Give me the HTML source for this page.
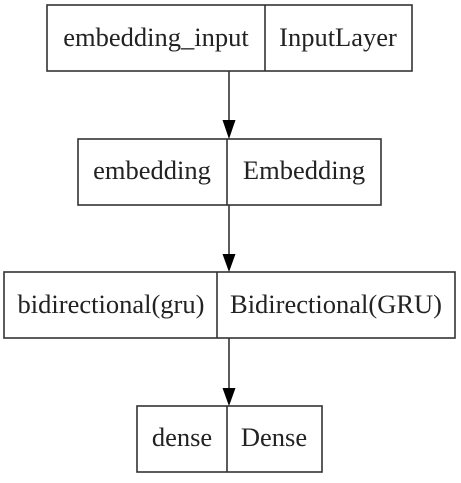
<!DOCTYPE html>
<html><head><style>html,body{margin:0;padding:0;background:#fff}text{font-family:"Liberation Serif",serif;font-size:26.5px;fill:#222}</style></head>
<body>
<svg width="461" height="478" xmlns="http://www.w3.org/2000/svg">
<g stroke="#333" stroke-width="1.6" fill="none">
<rect x="47" y="5" width="365" height="66"/><line x1="265" y1="5" x2="265" y2="71"/>
<rect x="78" y="139" width="303" height="66"/><line x1="227" y1="139" x2="227" y2="205"/>
<rect x="4" y="272" width="451" height="66"/><line x1="217" y1="272" x2="217" y2="338"/>
<rect x="137" y="406" width="185" height="66"/><line x1="227" y1="406" x2="227" y2="472"/>
<line x1="229" y1="71" x2="229" y2="122"/>
<line x1="229" y1="205" x2="229" y2="256"/>
<line x1="229" y1="338" x2="229" y2="390"/>
</g>
<g fill="#000">
<polygon points="222.5,120 235.5,120 229,139"/>
<polygon points="222.5,254 235.5,254 229,272"/>
<polygon points="222.5,388 235.5,388 229,406"/>
</g>
<g text-anchor="middle">
<text x="156" y="46">embedding_input</text>
<text x="338" y="46">InputLayer</text>
<text x="152" y="179">embedding</text>
<text x="304" y="179">Embedding</text>
<text x="111" y="313">bidirectional(gru)</text>
<text x="336" y="313">Bidirectional(GRU)</text>
<text x="182" y="446">dense</text>
<text x="274" y="446">Dense</text>
</g>
</svg>
</body></html>
